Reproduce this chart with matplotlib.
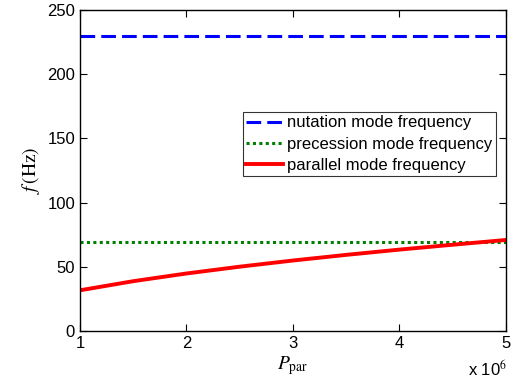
import matplotlib
matplotlib.use("Agg")
import matplotlib.pyplot as plt

# values
p_par = [1.0, 1.5, 2.0, 2.5, 3.0, 3.5, 4.0, 4.5, 5.0]  # x 10^6
parallel_f = [31.7, 38.8, 44.8, 50.1, 54.9, 59.3, 63.4, 67.2, 70.9]
nutation_f = 230.0
precession_f = 69.5
x_ticks = [1, 2, 3, 4, 5]
y_ticks = [0, 50, 100, 150, 200, 250]

plt.rcParams["font.family"] = ["Liberation Sans", "DejaVu Sans"]
plt.rcParams["mathtext.fontset"] = "stix"

fig = plt.figure(figsize=(5.17, 3.81), dpi=100)
ax = fig.add_axes([0.1547, 0.1312, 0.8240, 0.8426])

ax.plot([p_par[0], p_par[-1]], [nutation_f] * 2, color="#0000ff", ls=(0, (4.8, 2.0)),
        lw=2.2, label="nutation mode frequency")
ax.plot([p_par[0], p_par[-1]], [precession_f] * 2, color="#007f00", ls=(0, (1, 1.1)),
        lw=2.2, label="precession mode frequency")
ax.plot(p_par, parallel_f, color="#ff0000", lw=2.8, label="parallel mode frequency")

ax.set_xlim(1, 5)
ax.set_ylim(0, 250)
ax.set_xticks(x_ticks)
ax.set_yticks(y_ticks)
ax.tick_params(direction="in", labelsize=12, length=5, top=True, right=True, width=0.8)
for s in ax.spines.values():
    s.set_linewidth(1.0)

ax.set_xlabel(r"$P_{\mathrm{par}}$", fontsize=14, labelpad=2)
ax.set_ylabel(r"$f\,(\mathrm{Hz})$", fontsize=14, labelpad=4)
fig.text(507 / 517, 5.5 / 381, r"x 10$^6$", ha="right", va="baseline", fontsize=12)

leg = ax.legend(loc="upper left", bbox_to_anchor=(0.383, 0.682), fontsize=12,
                frameon=True, fancybox=False, edgecolor="black", handlelength=2.2,
                handletextpad=0.25, borderpad=0.2, labelspacing=0.38, borderaxespad=0)
leg.get_frame().set_linewidth(0.8)

fig.savefig("out.png", dpi=100)
